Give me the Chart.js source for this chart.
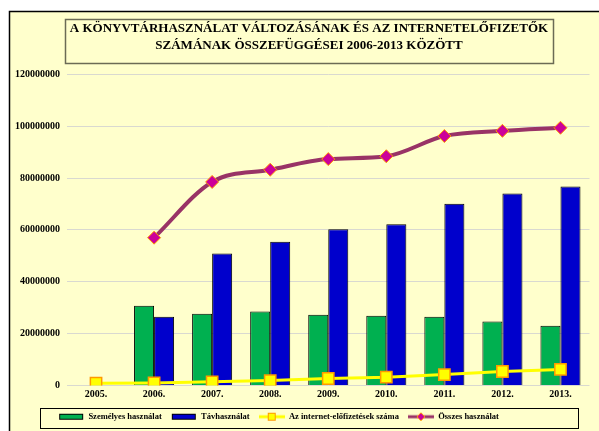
<!DOCTYPE html>
<html>
<head>
<meta charset="utf-8">
<script src="https://cdn.jsdelivr.net/npm/chart.js@4.4.1/dist/chart.umd.min.js"></script>
<style>
  html, body { margin: 0; padding: 0; background: #fff; }
  #wrap { position: relative; width: 599px; height: 431px; }
</style>
</head>
<body>
<div id="wrap"><canvas id="chart_konyvtar"></canvas></div>
<script>
// values (in persons / uses)
var years = ['2005.', '2006.', '2007.', '2008.', '2009.', '2010.', '2011.', '2012.', '2013.'];
var szemelyes = [null, 30800000, 27700000, 28500000, 27300000, 26900000, 26500000, 24700000, 23000000];
var tavhasznalat = [null, 26500000, 50900000, 55400000, 60300000, 62200000, 70100000, 74000000, 76700000];
var internetElofizetes = [900000, 1000000, 1400000, 1900000, 2700000, 3200000, 4200000, 5400000, 6200000];
var osszesHasznalat = [null, 57000000, 78500000, 83200000, 87300000, 88400000, 96200000, 98200000, 99400000];
var yTicks = [0, 20000000, 40000000, 60000000, 80000000, 100000000, 120000000];

var titleLines = ['A KÖNYVTÁRHASZNÁLAT VÁLTOZÁSÁNAK ÉS AZ INTERNETELŐFIZETŐK', 'SZÁMÁNAK ÖSSZEFÜGGÉSEI 2006-2013 KÖZÖTT'];
var titleFont = 'bold 13px "Liberation Serif"';

function legendIcon(kind, fill, stroke) {
  var c = document.createElement('canvas');
  c.width = 26; c.height = 10;
  var g = c.getContext('2d');
  if (kind === 'bar') {
    g.fillStyle = fill;
    g.fillRect(1.5, 2.5, 23, 5);
    g.strokeStyle = '#000';
    g.lineWidth = 1;
    g.strokeRect(1.5, 2.5, 23, 5);
  } else {
    g.strokeStyle = stroke;
    g.lineWidth = 3;
    g.beginPath(); g.moveTo(0, 5); g.lineTo(26, 5); g.stroke();
    g.fillStyle = fill;
    g.strokeStyle = '#FF9900';
    g.lineWidth = 1;
    if (kind === 'square') {
      g.fillRect(9.5, 1.5, 7, 7);
      g.strokeRect(9.5, 1.5, 7, 7);
    } else {
      g.beginPath(); g.moveTo(13, 1); g.lineTo(17, 5); g.lineTo(13, 9); g.lineTo(9, 5); g.closePath();
      g.fill(); g.stroke();
    }
  }
  return c;
}
var icons = [
  legendIcon('bar', '#00B050'),
  legendIcon('bar', '#0000CC'),
  legendIcon('square', '#FFFF00', '#FFFF00'),
  legendIcon('diamond', '#CC0099', '#993366')
];

var chart_konyvtar = new Chart(document.getElementById('chart_konyvtar'), {
    type: 'bar',
    data: {
        labels: years,
        datasets: [
            {
                label: 'Személyes használat',
                data: szemelyes,
                backgroundColor: '#00B050',
                borderColor: '#000000',
                borderWidth: 1,
                order: 2
            },
            {
                label: 'Távhasználat',
                data: tavhasznalat,
                backgroundColor: '#0000CC',
                borderColor: '#000000',
                borderWidth: 1,
                order: 2
            },
            {
                type: 'line',
                label: 'Az internet-előfizetések száma',
                data: internetElofizetes,
                borderColor: '#FFFF00',
                borderWidth: 3,
                pointStyle: 'rect',
                pointRadius: 8,
                pointBackgroundColor: '#FFFF00',
                pointBorderColor: '#FF9900',
                pointBorderWidth: 1.5,
                tension: 0,
                order: 1
            },
            {
                type: 'line',
                label: 'Összes használat',
                data: osszesHasznalat,
                borderColor: '#993366',
                borderWidth: 4,
                pointStyle: 'rectRot',
                pointRadius: 6.5,
                pointBackgroundColor: '#CC0099',
                pointBorderColor: '#FF9900',
                pointBorderWidth: 1,
                cubicInterpolationMode: 'monotone',
                order: 1
            }
        ]
    },
    options: {
        animation: false,
        responsive: true,
        maintainAspectRatio: false,
        datasets: {
            bar: { categoryPercentage: 0.69, barPercentage: 1.0 }
        },
        layout: {
            padding: { left: 13, right: 7, top: 0, bottom: 0 }
        },
        plugins: {
            title: {
                display: true,
                text: titleLines,
                color: '#000',
                font: { family: 'Liberation Serif', size: 13, weight: 'bold', lineHeight: 1.32 },
                padding: { top: 20, bottom: 20 }
            },
            legend: {
                display: true,
                position: 'bottom',
                labels: {
                    usePointStyle: true,
                    pointStyleWidth: 26,
                    padding: 9,
                    color: '#000',
                    font: { family: 'Liberation Serif', size: 8.5, weight: 'bold' },
                    sort: function (a, b) { return a.datasetIndex - b.datasetIndex; },
                    generateLabels: function (chart) {
                        var items = Chart.defaults.plugins.legend.labels.generateLabels(chart);
                        items.forEach(function (it) { it.pointStyle = icons[it.datasetIndex]; });
                        return items;
                    }
                }
            },
            tooltip: { enabled: false }
        },
        scales: {
            x: {
                grid: { display: false, drawTicks: false },
                border: { display: false },
                ticks: {
                    color: '#000',
                    padding: 3,
                    font: { family: 'Liberation Serif', size: 10, weight: 'bold' }
                }
            },
            y: {
                min: 0,
                max: 120000000,
                grid: { color: '#D9D9D0', drawTicks: false },
                border: { display: false },
                afterFit: function (scale) { scale.width = 54; },
                afterBuildTicks: function (scale) {
                    scale.ticks = yTicks.map(function (v) { return { value: v }; });
                },
                ticks: {
                    color: '#000',
                    padding: 7,
                    font: { family: 'Liberation Serif', size: 10, weight: 'bold' },
                    callback: function (v) { return String(v); }
                }
            }
        }
    },
    plugins: [{
        id: 'frameAndBoxes',
        afterLayout: function (chart) {
            // the Excel title sits a little right of the page centre, the legend a little left
            var tb = chart.titleBlock;
            tb.left += 13;
            tb.width = tb.right - tb.left;
            var lg = chart.legend;
            lg._boxLeft = lg.left + 27;
            lg._boxRight = lg.right - 14;
            lg.right -= 48;
            lg.width = lg.right - lg.left;
        },
        beforeDraw: function (chart) {
            var ctx = chart.ctx;
            ctx.save();
            ctx.fillStyle = '#FFFFFF';
            ctx.fillRect(0, 0, chart.width, chart.height);
            ctx.fillStyle = '#FFFFCC';
            ctx.fillRect(9, 11, chart.width - 9, chart.height - 11);
            ctx.strokeStyle = '#000';
            ctx.lineWidth = 1.5;
            ctx.beginPath();
            ctx.moveTo(9.5, chart.height);
            ctx.lineTo(9.5, 11.5);
            ctx.lineTo(chart.width, 11.5);
            ctx.stroke();
            ctx.restore();
        },
        afterDraw: function (chart) {
            var ctx = chart.ctx;
            ctx.save();
            // box round the title
            var tb = chart.titleBlock;
            ctx.font = titleFont;
            var w = Math.max.apply(null, titleLines.map(function (t) { return ctx.measureText(t).width; }));
            var cx = (tb.left + tb.right) / 2;
            ctx.strokeStyle = '#6B6B55';
            ctx.lineWidth = 1.5;
            ctx.strokeRect(Math.round(cx - w / 2 - 5) + 0.5, tb.top + 19.5, Math.round(w + 10), 44);
            // box round the legend
            var lg = chart.legend;
            var hb = lg.legendHitBoxes;
            var top = hb[0].top - 5, bottom = hb[0].top + hb[0].height + 6;
            ctx.strokeStyle = '#000';
            ctx.lineWidth = 1;
            ctx.strokeRect(Math.round(lg._boxLeft) + 0.5, Math.round(top) + 0.5, Math.round(lg._boxRight - lg._boxLeft), Math.round(bottom - top));
            ctx.restore();
        }
    }]
});
</script>
</body>
</html>
